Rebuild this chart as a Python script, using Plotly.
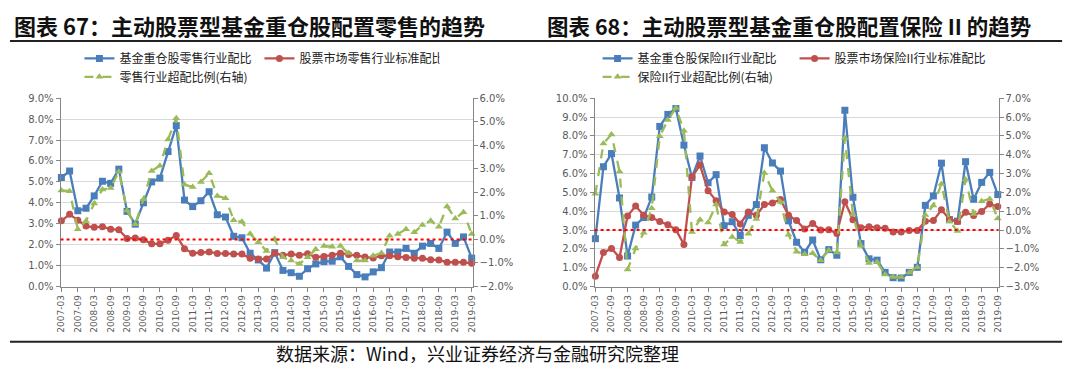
import plotly.graph_objects as go

# ---------------- data ----------------
quarters = [f"{y}-{m:02d}" for y in range(2007, 2020) for m in (3, 6, 9, 12)][:51]
tick_labels = quarters[::2]

# Chart 67: retail (left axis %, right axis %)
retail_fund = [5.21, 5.52, 3.62, 3.74, 4.33, 5.03, 4.93, 5.61, 3.59, 2.98,
               4.00, 5.00, 5.18, 6.45, 7.69, 4.13, 3.82, 4.10, 4.53, 3.43,
               3.32, 2.40, 2.33, 1.59, 1.27, 0.88, 1.62, 0.77, 0.66, 0.49,
               0.85, 1.08, 1.19, 1.21, 1.42, 0.96, 0.57, 0.46, 0.70, 0.90,
               1.65, 1.65, 1.82, 1.59, 1.93, 2.06, 1.82, 2.60, 2.06, 2.37, 1.36]
retail_market = [3.14, 3.45, 3.17, 2.89, 2.83, 2.86, 2.74, 2.71, 2.29, 2.32,
                 2.24, 2.04, 2.04, 2.21, 2.44, 1.81, 1.59, 1.62, 1.65, 1.58,
                 1.58, 1.55, 1.55, 1.35, 1.31, 1.31, 1.59, 1.50, 1.55, 1.50,
                 1.57, 1.40, 1.44, 1.50, 1.59, 1.53, 1.50, 1.41, 1.36, 1.47,
                 1.47, 1.42, 1.39, 1.35, 1.35, 1.28, 1.27, 1.16, 1.16, 1.16, 1.11]
retail_over = [2.08, 2.05, 0.43, 0.78, 1.53, 2.12, 2.19, 2.88, 1.23, 0.65,
               1.71, 2.91, 3.13, 4.25, 5.15, 2.33, 2.23, 2.44, 2.81, 1.85,
               1.75, 0.82, 0.75, 0.24, -0.12, -0.49, 0.02, -0.76, -0.90, -1.04,
               -0.76, -0.42, -0.28, -0.31, -0.28, -0.58, -0.90, -0.90, -0.69, -0.58,
               0.16, 0.23, 0.43, 0.30, 0.61, 0.79, 0.54, 1.40, 0.89, 1.16, 0.23]

# Chart 68: insurance II
ins_fund = [2.54, 6.36, 7.06, 4.70, 1.62, 3.26, 3.66, 4.75, 8.50, 9.14,
            9.45, 7.51, 5.79, 6.93, 5.51, 5.94, 3.23, 3.44, 2.71, 3.78,
            4.35, 7.37, 6.56, 6.13, 3.49, 2.35, 1.82, 2.47, 1.42, 1.96,
            1.66, 9.36, 4.74, 2.28, 1.47, 1.40, 0.75, 0.47, 0.45, 0.75,
            1.02, 4.31, 4.81, 6.55, 3.55, 3.47, 6.63, 4.63, 5.53, 6.06, 4.88]
ins_market = [0.55, 1.80, 2.02, 1.54, 3.75, 4.27, 3.78, 3.66, 3.45, 3.28,
              3.02, 2.23, 5.82, 6.45, 5.09, 4.56, 3.96, 3.83, 3.32, 3.96,
              3.78, 4.35, 4.44, 4.62, 3.78, 3.50, 3.05, 3.35, 3.00, 3.02,
              2.82, 4.50, 3.55, 3.12, 3.18, 3.12, 3.10, 2.90, 2.90, 2.97,
              2.97, 3.47, 3.50, 4.07, 3.57, 3.45, 3.95, 3.77, 3.98, 4.38, 4.25]
ins_over = [1.92, 4.60, 5.07, 3.11, -2.10, -0.98, -0.15, 1.15, 4.98, 5.84,
            6.48, 5.27, -0.10, 0.55, 0.40, 1.35, -0.77, -0.37, -0.63, -0.20,
            0.58, 3.03, 2.08, 1.49, -0.25, -1.15, -1.28, -1.24, -1.60, -1.07,
            -1.20, 4.88, 0.83, -0.83, -1.75, -1.70, -2.36, -2.50, -2.50, -2.25,
            -1.98, 0.80, 1.30, 2.45, 0.45, -0.05, 2.68, 0.85, 1.53, 1.65, 0.61]

names_left = ["基金重仓股零售行业配比", "股票市场零售行业标准配比", "零售行业超配比例(右轴)"]
names_right = ["基金重仓股保险II行业配比", "股票市场保险II行业标准配比", "保险II行业超配比例(右轴)"]

# ---------------- style ----------------
BLUE = "#4A7EBB"
RED = "#C0504D"
GREEN = "#9BBB59"
AXIS = "#868686"
GRID = "#D9D9D9"
TICKC = "#595959"
CJK = "Noto Sans CJK SC"
LAT = "DejaVu Sans"
W, H = 1080, 376

fig = go.Figure()


def add(y, name, color, symbol, xa, ya, legend, dash="solid"):
    fig.add_trace(go.Scatter(
        x=quarters, y=y, name=name, mode="lines+markers",
        line=dict(color=color, width=2.3, dash=dash),
        marker=dict(symbol=symbol, size=7, color=color),
        xaxis=xa, yaxis=ya, legend=legend, cliponaxis=False))


add(retail_fund, names_left[0], BLUE, "square", "x", "y", "legend")
add(retail_market, names_left[1], RED, "circle", "x", "y", "legend")
add(retail_over, names_left[2], GREEN, "triangle-up", "x", "y2", "legend2", dash="dash")
add(ins_fund, names_right[0], BLUE, "square", "x2", "y3", "legend3")
add(ins_market, names_right[1], RED, "circle", "x2", "y3", "legend3")
add(ins_over, names_right[2], GREEN, "triangle-up", "x2", "y4", "legend4", dash="dash")

ydom = [1 - 290 / H, 1 - 96 / H]


def xax(dom, anchor):
    return dict(domain=dom, anchor=anchor, type="category", range=[-0.1, 50.1],
                tickmode="array", tickvals=tick_labels, ticktext=tick_labels,
                tickangle=-90, ticks="outside", ticklen=4, tickcolor=AXIS,
                showline=True, linecolor=AXIS, linewidth=1, showgrid=False,
                tickfont=dict(family=LAT, size=9, color=TICKC))


def yax(rng, anchor, side="left", overlay=None, grid=True):
    d = dict(range=rng, dtick=1, tickformat=".1f", ticksuffix="%", anchor=anchor,
             side=side, showgrid=grid, gridcolor=GRID, gridwidth=1,
             showline=True, linecolor=AXIS, linewidth=1, ticks="outside",
             ticklen=4, tickcolor=AXIS, zeroline=False,
             tickfont=dict(family=LAT, size=10, color=TICKC))
    if overlay:
        d["overlaying"] = overlay
    else:
        d["domain"] = ydom
    return d


def leg(x, y, width=None):
    d = dict(x=x, y=y, xanchor="left", yanchor="middle", orientation="h",
             bgcolor="rgba(0,0,0,0)", font=dict(family=CJK, size=12, color="#222"),
             itemwidth=30, tracegroupgap=0)
    if width:
        d["entrywidth"] = width
        d["entrywidthmode"] = "pixels"
    return d


fig.update_layout(
    width=W, height=H, margin=dict(l=0, r=0, t=0, b=0),
    paper_bgcolor="white", plot_bgcolor="white", showlegend=True,
    xaxis=xax([57 / W, 472 / W], "y"),
    yaxis=yax([0, 9], "x"),
    yaxis2=yax([-2, 6], "x", side="right", overlay="y", grid=False),
    xaxis2=xax([595 / W, 1002 / W], "y3"),
    yaxis3=yax([0, 10], "x2"),
    yaxis4=yax([-3, 7], "x2", side="right", overlay="y3", grid=False),
    legend=leg(76 / W, 1 - 55 / H, 135),
    legend2=leg(76 / W, 1 - 74 / H),
    legend3=leg(598 / W, 1 - 55 / H, 152),
    legend4=leg(598 / W, 1 - 74 / H),
    shapes=[
        dict(type="line", xref="x domain", yref="y2", x0=0, x1=1, y0=0, y1=0,
             line=dict(color="#FF0000", width=2, dash="dot")),
        dict(type="line", xref="x2 domain", yref="y4", x0=0, x1=1, y0=0, y1=0,
             line=dict(color="#FF0000", width=2, dash="dot")),
        dict(type="line", xref="paper", yref="paper", x0=6 / W, x1=1066 / W,
             y0=1 - 37 / H, y1=1 - 37 / H, line=dict(color="#222", width=2)),
        dict(type="line", xref="paper", yref="paper", x0=6 / W, x1=1066 / W,
             y0=1 - 347 / H, y1=1 - 347 / H, line=dict(color="#222", width=2)),
    ],
    annotations=[
        dict(text="<b>图表 67：主动股票型基金重仓股配置零售的趋势</b>", xref="paper", yref="paper",
             x=8 / W, y=1 - 21 / H, xanchor="left", yanchor="middle", showarrow=False,
             font=dict(family=CJK, size=22, color="#111")),
        dict(text="<b>图表 68：主动股票型基金重仓股配置保险 II 的趋势</b>", xref="paper", yref="paper",
             x=545 / W, y=1 - 21 / H, xanchor="left", yanchor="middle", showarrow=False,
             font=dict(family=CJK, size=21.5, color="#111")),
        dict(text="数据来源：Wind，兴业证券经济与金融研究院整理", xref="paper", yref="paper",
             x=272 / W, y=1 - 359 / H, xanchor="left", yanchor="middle", showarrow=False,
             font=dict(family=CJK, size=18, color="#111")),
    ],
)

fig.write_html("out.html", config={"displayModeBar": False},
               post_script="document.body.style.margin='0';")
